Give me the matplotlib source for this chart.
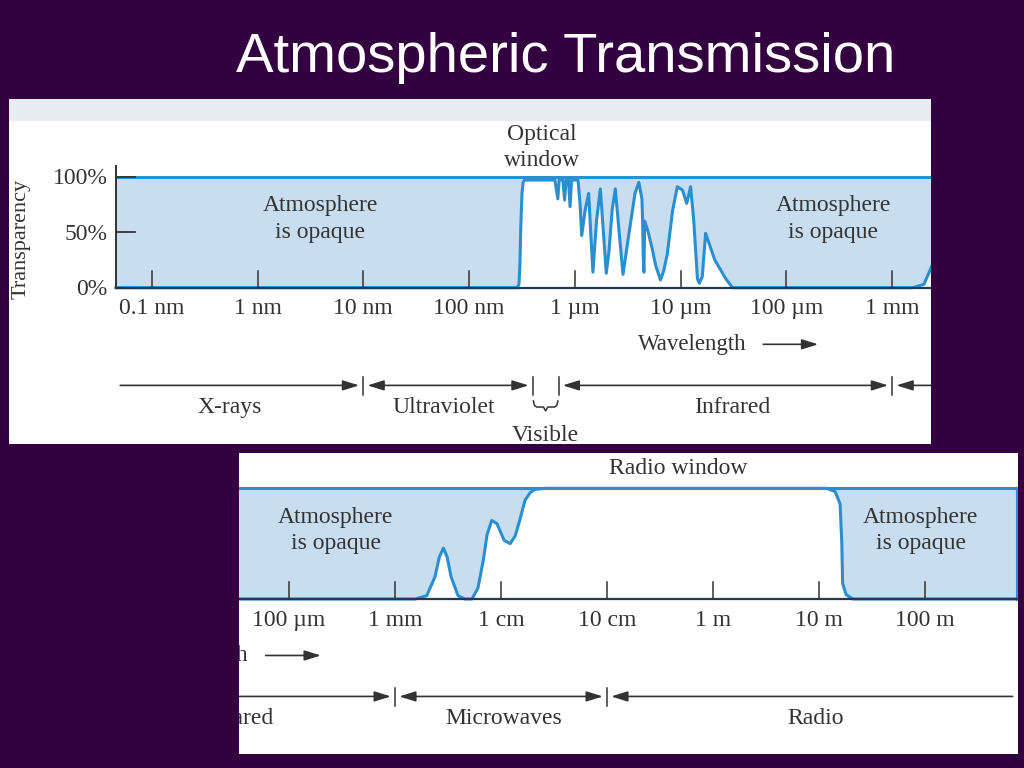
"""
Atmospheric transmission across the electromagnetic spectrum, drawn as two
cropped views of the same figure on a dark slide.
"""
import matplotlib.pyplot as plt
import numpy as np
from matplotlib.patches import FancyArrowPatch

# TRANSMISSION CURVE. #
optical_wavelength_um = [0.285, 0.296, 0.302, 0.308, 0.316, 0.324, 0.335, 0.36, 0.646, 0.69, 0.71, 0.769,
                         0.80, 0.825, 0.87, 0.90, 0.93, 1.07, 1.12, 1.16, 1.25, 1.35, 1.42, 1.48, 1.60, 1.74,
                         1.86, 1.98, 2.10, 2.25, 2.41, 2.62, 2.85, 3.20, 3.70, 4.02, 4.30, 4.37, 4.42, 4.49,
                         4.57, 4.93, 5.38, 5.80, 6.44, 6.90, 7.46, 8.40, 9.29, 10.4, 11.4, 12.4, 13.3, 14.4,
                         15.0, 16.0, 17.2, 21.0, 26.7, 30.9]
optical_transparency = [0, 3, 20, 55, 85, 95, 97, 97, 97, 80, 97, 97,
                        79, 97, 97, 73, 97, 97, 75, 47, 70, 85, 45, 14, 60, 89,
                        50, 13, 33, 70, 89, 50, 12, 45, 85, 95, 80, 60, 30, 14,
                        60, 50, 35, 20, 7, 15, 30, 70, 91, 88, 76, 91, 60, 8,
                        4, 10, 49, 25, 8, 0]

radio_wavelength_m = [1.55e-3, 1.99e-3, 2.38e-3, 2.62e-3, 2.86e-3, 3.1e-3, 3.38e-3, 3.93e-3, 4.57e-3,
                      5.32e-3, 6.06e-3, 6.8e-3, 7.38e-3, 8.17e-3, 9.16e-3, 10.7e-3, 12.2e-3, 13.6e-3,
                      15.1e-3, 16.8e-3, 18.8e-3, 20.9e-3, 26e-3, 11.8, 14.2, 15.8, 16.4, 16.7, 18.0, 20.9]
radio_transparency = [0, 3, 20, 38, 46, 38, 20, 3, 0,
                      0, 10, 35, 58, 71, 68, 53, 50, 57,
                      72, 89, 96, 99, 100, 100, 97, 86, 50, 14, 4, 0]

# extent of the drawn frame (left axis line, right frame line)
frame_min_m = 4.6e-11
frame_max_m = 733.0

decade_wavelengths_m = [1e-10, 1e-9, 1e-8, 1e-7, 1e-6, 1e-5, 1e-4, 1e-3, 1e-2, 1e-1, 1.0, 10.0, 100.0]
decade_labels = ['0.1 nm', '1 nm', '10 nm', '100 nm', '1 µm', '10 µm', '100 µm', '1 mm',
                 '1 cm', '10 cm', '1 m', '10 m', '100 m']
transparency_ticks = [100, 50, 0]
transparency_labels = ['100%', '50%', '0%']

band_names = ['X-rays', 'Ultraviolet', 'Infrared', 'Microwaves', 'Radio']
band_lower_m = [frame_min_m, 1e-8, 7e-7, 1e-3, 1e-1]
band_upper_m = [1e-8, 4e-7, 1e-3, 1e-1, frame_max_m]
band_arrows = ['-|>', '<|-|>', '<|-|>', '<|-|>', '<|-']
band_label_at_m = [5.5e-10, 5.7e-8, 3.1e-5, 1.05e-2, 9.2]
band_boundaries_m = [1e-8, 4e-7, 7e-7, 1e-3, 1e-1]

opaque_label_at_m = [3.9e-9, 2.75e-4, 91.0]

SLIDE = '#330040'
FILL = '#c8ddf0'
BLUE = '#2a8fd0'
BASE = '#1f3a55'
INK = '#333333'
SERIF = 'Liberation Serif'

wavelength_m = np.concatenate([[frame_min_m], np.array(optical_wavelength_um) * 1e-6,
                               radio_wavelength_m, [frame_max_m]])
transparency = np.concatenate([[0], optical_transparency, radio_transparency, [0]])


def put_text(ax, x, y, text, **kwargs):
    # every panel is a crop of the same figure, so texts are clipped at the panel edge
    kwargs.setdefault('ha', 'center')
    ax.text(x, y, text, va='center', family=SERIF, color=INK, clip_on=True, **kwargs)


def put_arrow(ax, start, end, y, style, shrink):
    arrow = FancyArrowPatch((start, y), (end, y), arrowstyle=style + ',head_length=0.9,head_width=0.28',
                            color=INK, lw=1.2, mutation_scale=11, shrinkA=shrink, shrinkB=shrink)
    ax.add_patch(arrow)


def draw_spectrum(ax):
    # SHADED OPAQUE REGION AND THE TRANSMISSION CURVE. #
    ax.fill_between(wavelength_m, transparency, 100, color=FILL, lw=0, zorder=1)
    ax.plot(wavelength_m, transparency, color=BLUE, lw=2.2, solid_joinstyle='round', zorder=3)
    ax.plot([frame_min_m, frame_max_m], [100, 100], color=BLUE, lw=2.2, zorder=3)
    ax.plot([frame_max_m, frame_max_m], [0, 100], color=BLUE, lw=2.2, zorder=3)
    ax.plot([frame_min_m, frame_max_m], [0, 0], color=BASE, lw=1.6, zorder=4)
    ax.plot([frame_min_m, frame_min_m], [0, 110], color=INK, lw=1.4, zorder=4)

    # AXIS TICKS AND LABELS. #
    for value, label in zip(transparency_ticks, transparency_labels):
        ax.plot([frame_min_m, frame_min_m * 10 ** 0.18], [value, value], color=INK, lw=1.3, zorder=4)
        put_text(ax, frame_min_m * 10 ** -0.08, value - 2, label, ha='right', fontsize=17)
    put_text(ax, frame_min_m * 10 ** -0.9, 44, 'Transparency', rotation=90, fontsize=16)
    for value, label in zip(decade_wavelengths_m, decade_labels):
        ax.plot([value, value], [0, 15], color=INK, lw=1.1, zorder=4)
        put_text(ax, value, -19, label, fontsize=17)

    put_text(ax, 10 ** -4.38, -51, 'Wavelength', ha='right', fontsize=16.5)
    put_arrow(ax, 10 ** -4.22, 10 ** -3.70, -51, '-|>', 0)

    # TEXT INSIDE THE CHART. #
    for position in opaque_label_at_m:
        put_text(ax, position, 62, 'Atmosphere\nis opaque', fontsize=17, linespacing=1.33, zorder=5)
    put_text(ax, 10 ** -6.314, 126, 'Optical\nwindow', fontsize=17, linespacing=1.33)
    put_text(ax, 10 ** -0.33, 118, 'Radio window', fontsize=17)

    # SPECTRAL BANDS BELOW THE AXIS. #
    for boundary in band_boundaries_m:
        ax.plot([boundary, boundary], [-80, -97], color=INK, lw=1.1)
    for name, lower, upper, style, label_at in zip(band_names, band_lower_m, band_upper_m,
                                                    band_arrows, band_label_at_m):
        put_arrow(ax, lower, upper, -88, style, 3)
        put_text(ax, label_at, -108, name, fontsize=17)

    left, right = np.log10(4.05e-7), np.log10(6.9e-7)
    middle = (left + right) / 2
    brace_x = [left, left + 0.01, left + 0.03, middle - 0.02, middle, middle + 0.02,
               right - 0.03, right - 0.01, right]
    brace_y = [-102, -106, -107.5, -107.5, -111, -107.5, -107.5, -106, -102]
    ax.plot(10 ** np.array(brace_x), brace_y, color=INK, lw=1.1)
    put_text(ax, 10 ** middle, -133, 'Visible', fontsize=17)


def make_panel(fig, box, xlim, ylim):
    left, top, right, bottom = box
    ax = fig.add_axes([left / 1024, 1 - bottom / 768, (right - left) / 1024, (bottom - top) / 768])
    ax.set_xscale('log')
    ax.set_xlim(10 ** xlim[0], 10 ** xlim[1])
    ax.set_ylim(*ylim)
    ax.set_facecolor('white')
    ax.xaxis.set_visible(False)
    ax.yaxis.set_visible(False)
    for spine in ax.spines.values():
        spine.set_visible(False)
    return ax


def main():
    fig = plt.figure(figsize=(10.24, 7.68), dpi=100, facecolor=SLIDE)
    fig.text(0.552, 0.925, 'Atmospheric Transmission', ha='center', va='center', color='white',
             fontsize=40.5, family='Liberation Sans')

    top = make_panel(fig, (9, 99, 931, 444), (-11.349, -2.634), (-140.8, 170.0))
    top.axhspan(150.2, 175, color='#e8edf3', lw=0, zorder=0)
    draw_spectrum(top)

    bottom = make_panel(fig, (239, 453, 1018, 754), (-4.472, 2.877), (-140.0, 131.9))
    draw_spectrum(bottom)

    fig.savefig('out.png', dpi=100, facecolor=SLIDE)


if __name__ == '__main__':
    main()
